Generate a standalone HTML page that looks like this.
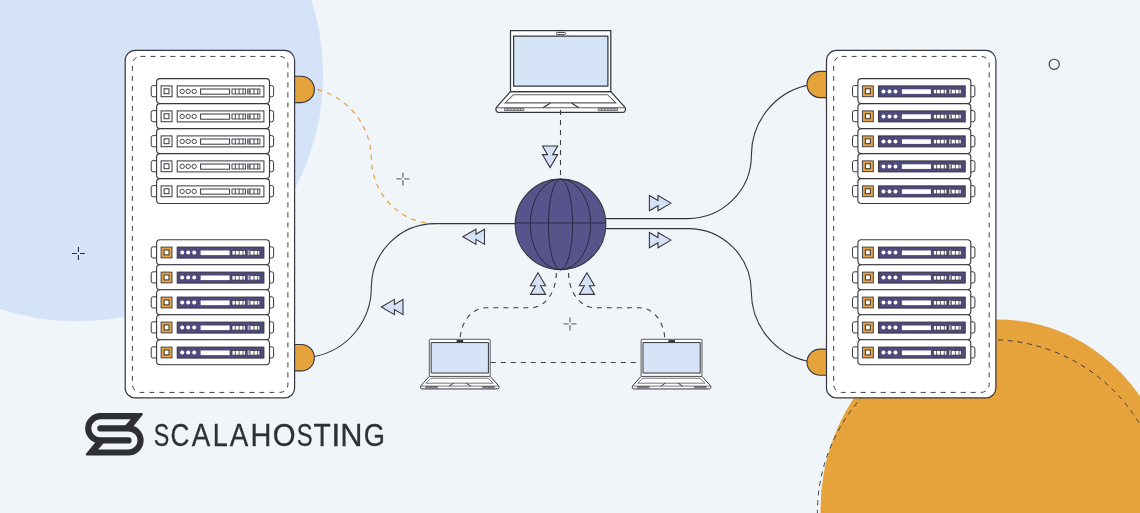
<!DOCTYPE html>
<html><head><meta charset="utf-8"><style>
html,body{margin:0;padding:0;background:#f0f5f9;}
svg{display:block;}
</style></head><body>
<svg width="1140" height="513" viewBox="0 0 1140 513">
<rect width="1140" height="513" fill="#f0f5f9"/>
<circle cx="76.4" cy="74.6" r="246.6" fill="#d4e3f8"/>
<ellipse cx="997.7" cy="509.3" rx="177.2" ry="189.9" fill="#e7a33b"/>
<circle cx="990.9" cy="513.2" r="173.5" fill="none" stroke="#3e3e46" stroke-width="1.0" stroke-dasharray="5 4.7"/>
<path d="M317.5,89.5 A72.6,72.6 0 0 1 371.3,157 A64,66.6 0 0 0 435.3,223.6" fill="none" stroke="#e9a648" stroke-width="1.3" stroke-dasharray="5 5"/>
<path d="M520,223.6 H435.3 A64,64 0 0 0 371.3,287.6 A70.2,70.2 0 0 1 314.5,356.5" fill="none" stroke="#36363f" stroke-width="1.1"/>
<path d="M600,218.6 H687.8 A63.6,63.6 0 0 0 751.4,155 A71.45,71.45 0 0 1 806.7,85.4" fill="none" stroke="#36363f" stroke-width="1.1"/>
<path d="M600,228.6 H687.7 A63.2,63.2 0 0 1 751.3,291.8 A70.97,70.97 0 0 0 807.4,361.2" fill="none" stroke="#36363f" stroke-width="1.1"/>
<path d="M556.3,273 C556.30,292.22 544.84,307.80 530.70,307.80 H486.3 C471.83,307.80 460.10,322.44 460.10,340.50" stroke="#3e3e46" stroke-width="1.1" stroke-dasharray="5 5" fill="none"/>
<path d="M568.6,273 C568.60,292.22 580.51,307.80 595.20,307.80 H639.6 C653.52,307.80 664.80,322.44 664.80,340.50" stroke="#3e3e46" stroke-width="1.1" stroke-dasharray="5 5" fill="none"/>
<path d="M490.8,362.5 H641" stroke="#3e3e46" stroke-width="1.1" stroke-dasharray="5 5" fill="none"/>
<path d="M293.60,76.20 H301.20 A13.2,13.2 0 0 1 301.20,102.60 H293.60 Z" fill="#e7a33b" stroke="#36363f" stroke-width="1.1"/>
<path d="M293.60,344.50 H301.20 A13.2,13.2 0 0 1 301.20,370.90 H293.60 Z" fill="#e7a33b" stroke="#36363f" stroke-width="1.1"/>
<rect x="125.20" y="50.4" width="169.4" height="347.5" rx="10" fill="#fff" stroke="#36363f" stroke-width="1.2"/>
<rect x="132.40" y="56.4" width="155.5" height="336" rx="8" fill="none" stroke="#3e3e46" stroke-width="1.0" stroke-dasharray="5 5"/>
<rect x="151.20" y="85.60" width="7" height="11.2" rx="2" fill="#fff" stroke="#36363f" stroke-width="1"/>
<rect x="266.60" y="85.60" width="7" height="11.2" rx="2" fill="#fff" stroke="#36363f" stroke-width="1"/>
<rect x="156.60" y="78.60" width="112.9" height="24.95" rx="3.5" fill="#fff" stroke="#36363f" stroke-width="1.1"/>
<rect x="161.10" y="85.90" width="10.9" height="10.8" fill="#fff" stroke="#36363f" stroke-width="1.0"/>
<rect x="164.10" y="88.80" width="4.9" height="4.9" fill="#fff" stroke="#36363f" stroke-width="1"/>
<rect x="177.20" y="85.90" width="86.7" height="11.0" fill="#fff" stroke="#36363f" stroke-width="1.0"/>
<circle cx="182.20" cy="91.40" r="2.2" fill="#fff" stroke="#36363f" stroke-width="0.9"/>
<circle cx="188.20" cy="91.40" r="2.2" fill="#fff" stroke="#36363f" stroke-width="0.9"/>
<circle cx="194.20" cy="91.40" r="2.2" fill="#fff" stroke="#36363f" stroke-width="0.9"/>
<rect x="200.60" y="89.00" width="29" height="5.2" fill="#fff" stroke="#36363f" stroke-width="1"/>
<rect x="232.00" y="89.00" width="13.6" height="5.0" fill="#fff" stroke="#36363f" stroke-width="0.9"/>
<rect x="247.60" y="89.00" width="12.3" height="5.0" fill="#fff" stroke="#36363f" stroke-width="0.9"/>
<rect x="247.60" y="89.00" width="2.4" height="5.0" fill="#999"/>
<line x1="235.30" y1="89.00" x2="235.30" y2="94.00" stroke="#36363f" stroke-width="0.9"/>
<line x1="239.10" y1="89.00" x2="239.10" y2="94.00" stroke="#36363f" stroke-width="0.9"/>
<line x1="243.00" y1="89.00" x2="243.00" y2="94.00" stroke="#36363f" stroke-width="0.9"/>
<line x1="250.00" y1="89.00" x2="250.00" y2="94.00" stroke="#36363f" stroke-width="0.9"/>
<line x1="254.00" y1="89.00" x2="254.00" y2="94.00" stroke="#36363f" stroke-width="0.9"/>
<line x1="257.70" y1="89.00" x2="257.70" y2="94.00" stroke="#36363f" stroke-width="0.9"/>
<rect x="151.20" y="110.60" width="7" height="11.2" rx="2" fill="#fff" stroke="#36363f" stroke-width="1"/>
<rect x="266.60" y="110.60" width="7" height="11.2" rx="2" fill="#fff" stroke="#36363f" stroke-width="1"/>
<rect x="156.60" y="103.60" width="112.9" height="24.95" rx="3.5" fill="#fff" stroke="#36363f" stroke-width="1.1"/>
<rect x="161.10" y="110.90" width="10.9" height="10.8" fill="#fff" stroke="#36363f" stroke-width="1.0"/>
<rect x="164.10" y="113.80" width="4.9" height="4.9" fill="#fff" stroke="#36363f" stroke-width="1"/>
<rect x="177.20" y="110.90" width="86.7" height="11.0" fill="#fff" stroke="#36363f" stroke-width="1.0"/>
<circle cx="182.20" cy="116.40" r="2.2" fill="#fff" stroke="#36363f" stroke-width="0.9"/>
<circle cx="188.20" cy="116.40" r="2.2" fill="#fff" stroke="#36363f" stroke-width="0.9"/>
<circle cx="194.20" cy="116.40" r="2.2" fill="#fff" stroke="#36363f" stroke-width="0.9"/>
<rect x="200.60" y="114.00" width="29" height="5.2" fill="#fff" stroke="#36363f" stroke-width="1"/>
<rect x="232.00" y="114.00" width="13.6" height="5.0" fill="#fff" stroke="#36363f" stroke-width="0.9"/>
<rect x="247.60" y="114.00" width="12.3" height="5.0" fill="#fff" stroke="#36363f" stroke-width="0.9"/>
<rect x="247.60" y="114.00" width="2.4" height="5.0" fill="#999"/>
<line x1="235.30" y1="114.00" x2="235.30" y2="119.00" stroke="#36363f" stroke-width="0.9"/>
<line x1="239.10" y1="114.00" x2="239.10" y2="119.00" stroke="#36363f" stroke-width="0.9"/>
<line x1="243.00" y1="114.00" x2="243.00" y2="119.00" stroke="#36363f" stroke-width="0.9"/>
<line x1="250.00" y1="114.00" x2="250.00" y2="119.00" stroke="#36363f" stroke-width="0.9"/>
<line x1="254.00" y1="114.00" x2="254.00" y2="119.00" stroke="#36363f" stroke-width="0.9"/>
<line x1="257.70" y1="114.00" x2="257.70" y2="119.00" stroke="#36363f" stroke-width="0.9"/>
<rect x="151.20" y="135.60" width="7" height="11.2" rx="2" fill="#fff" stroke="#36363f" stroke-width="1"/>
<rect x="266.60" y="135.60" width="7" height="11.2" rx="2" fill="#fff" stroke="#36363f" stroke-width="1"/>
<rect x="156.60" y="128.60" width="112.9" height="24.95" rx="3.5" fill="#fff" stroke="#36363f" stroke-width="1.1"/>
<rect x="161.10" y="135.90" width="10.9" height="10.8" fill="#fff" stroke="#36363f" stroke-width="1.0"/>
<rect x="164.10" y="138.80" width="4.9" height="4.9" fill="#fff" stroke="#36363f" stroke-width="1"/>
<rect x="177.20" y="135.90" width="86.7" height="11.0" fill="#fff" stroke="#36363f" stroke-width="1.0"/>
<circle cx="182.20" cy="141.40" r="2.2" fill="#fff" stroke="#36363f" stroke-width="0.9"/>
<circle cx="188.20" cy="141.40" r="2.2" fill="#fff" stroke="#36363f" stroke-width="0.9"/>
<circle cx="194.20" cy="141.40" r="2.2" fill="#fff" stroke="#36363f" stroke-width="0.9"/>
<rect x="200.60" y="139.00" width="29" height="5.2" fill="#fff" stroke="#36363f" stroke-width="1"/>
<rect x="232.00" y="139.00" width="13.6" height="5.0" fill="#fff" stroke="#36363f" stroke-width="0.9"/>
<rect x="247.60" y="139.00" width="12.3" height="5.0" fill="#fff" stroke="#36363f" stroke-width="0.9"/>
<rect x="247.60" y="139.00" width="2.4" height="5.0" fill="#999"/>
<line x1="235.30" y1="139.00" x2="235.30" y2="144.00" stroke="#36363f" stroke-width="0.9"/>
<line x1="239.10" y1="139.00" x2="239.10" y2="144.00" stroke="#36363f" stroke-width="0.9"/>
<line x1="243.00" y1="139.00" x2="243.00" y2="144.00" stroke="#36363f" stroke-width="0.9"/>
<line x1="250.00" y1="139.00" x2="250.00" y2="144.00" stroke="#36363f" stroke-width="0.9"/>
<line x1="254.00" y1="139.00" x2="254.00" y2="144.00" stroke="#36363f" stroke-width="0.9"/>
<line x1="257.70" y1="139.00" x2="257.70" y2="144.00" stroke="#36363f" stroke-width="0.9"/>
<rect x="151.20" y="160.60" width="7" height="11.2" rx="2" fill="#fff" stroke="#36363f" stroke-width="1"/>
<rect x="266.60" y="160.60" width="7" height="11.2" rx="2" fill="#fff" stroke="#36363f" stroke-width="1"/>
<rect x="156.60" y="153.60" width="112.9" height="24.95" rx="3.5" fill="#fff" stroke="#36363f" stroke-width="1.1"/>
<rect x="161.10" y="160.90" width="10.9" height="10.8" fill="#fff" stroke="#36363f" stroke-width="1.0"/>
<rect x="164.10" y="163.80" width="4.9" height="4.9" fill="#fff" stroke="#36363f" stroke-width="1"/>
<rect x="177.20" y="160.90" width="86.7" height="11.0" fill="#fff" stroke="#36363f" stroke-width="1.0"/>
<circle cx="182.20" cy="166.40" r="2.2" fill="#fff" stroke="#36363f" stroke-width="0.9"/>
<circle cx="188.20" cy="166.40" r="2.2" fill="#fff" stroke="#36363f" stroke-width="0.9"/>
<circle cx="194.20" cy="166.40" r="2.2" fill="#fff" stroke="#36363f" stroke-width="0.9"/>
<rect x="200.60" y="164.00" width="29" height="5.2" fill="#fff" stroke="#36363f" stroke-width="1"/>
<rect x="232.00" y="164.00" width="13.6" height="5.0" fill="#fff" stroke="#36363f" stroke-width="0.9"/>
<rect x="247.60" y="164.00" width="12.3" height="5.0" fill="#fff" stroke="#36363f" stroke-width="0.9"/>
<rect x="247.60" y="164.00" width="2.4" height="5.0" fill="#999"/>
<line x1="235.30" y1="164.00" x2="235.30" y2="169.00" stroke="#36363f" stroke-width="0.9"/>
<line x1="239.10" y1="164.00" x2="239.10" y2="169.00" stroke="#36363f" stroke-width="0.9"/>
<line x1="243.00" y1="164.00" x2="243.00" y2="169.00" stroke="#36363f" stroke-width="0.9"/>
<line x1="250.00" y1="164.00" x2="250.00" y2="169.00" stroke="#36363f" stroke-width="0.9"/>
<line x1="254.00" y1="164.00" x2="254.00" y2="169.00" stroke="#36363f" stroke-width="0.9"/>
<line x1="257.70" y1="164.00" x2="257.70" y2="169.00" stroke="#36363f" stroke-width="0.9"/>
<rect x="151.20" y="185.60" width="7" height="11.2" rx="2" fill="#fff" stroke="#36363f" stroke-width="1"/>
<rect x="266.60" y="185.60" width="7" height="11.2" rx="2" fill="#fff" stroke="#36363f" stroke-width="1"/>
<rect x="156.60" y="178.60" width="112.9" height="24.95" rx="3.5" fill="#fff" stroke="#36363f" stroke-width="1.1"/>
<rect x="161.10" y="185.90" width="10.9" height="10.8" fill="#fff" stroke="#36363f" stroke-width="1.0"/>
<rect x="164.10" y="188.80" width="4.9" height="4.9" fill="#fff" stroke="#36363f" stroke-width="1"/>
<rect x="177.20" y="185.90" width="86.7" height="11.0" fill="#fff" stroke="#36363f" stroke-width="1.0"/>
<circle cx="182.20" cy="191.40" r="2.2" fill="#fff" stroke="#36363f" stroke-width="0.9"/>
<circle cx="188.20" cy="191.40" r="2.2" fill="#fff" stroke="#36363f" stroke-width="0.9"/>
<circle cx="194.20" cy="191.40" r="2.2" fill="#fff" stroke="#36363f" stroke-width="0.9"/>
<rect x="200.60" y="189.00" width="29" height="5.2" fill="#fff" stroke="#36363f" stroke-width="1"/>
<rect x="232.00" y="189.00" width="13.6" height="5.0" fill="#fff" stroke="#36363f" stroke-width="0.9"/>
<rect x="247.60" y="189.00" width="12.3" height="5.0" fill="#fff" stroke="#36363f" stroke-width="0.9"/>
<rect x="247.60" y="189.00" width="2.4" height="5.0" fill="#999"/>
<line x1="235.30" y1="189.00" x2="235.30" y2="194.00" stroke="#36363f" stroke-width="0.9"/>
<line x1="239.10" y1="189.00" x2="239.10" y2="194.00" stroke="#36363f" stroke-width="0.9"/>
<line x1="243.00" y1="189.00" x2="243.00" y2="194.00" stroke="#36363f" stroke-width="0.9"/>
<line x1="250.00" y1="189.00" x2="250.00" y2="194.00" stroke="#36363f" stroke-width="0.9"/>
<line x1="254.00" y1="189.00" x2="254.00" y2="194.00" stroke="#36363f" stroke-width="0.9"/>
<line x1="257.70" y1="189.00" x2="257.70" y2="194.00" stroke="#36363f" stroke-width="0.9"/>
<rect x="151.20" y="246.80" width="7" height="11.2" rx="2" fill="#fff" stroke="#36363f" stroke-width="1"/>
<rect x="266.60" y="246.80" width="7" height="11.2" rx="2" fill="#fff" stroke="#36363f" stroke-width="1"/>
<rect x="156.60" y="239.80" width="112.9" height="24.95" rx="3.5" fill="#fff" stroke="#36363f" stroke-width="1.1"/>
<rect x="161.10" y="247.10" width="10.9" height="10.8" fill="#e4a64c" stroke="#36363f" stroke-width="0.9"/>
<rect x="164.10" y="250.00" width="4.9" height="4.9" fill="#fff" stroke="#3a3024" stroke-width="1"/>
<rect x="177.20" y="247.10" width="86.7" height="11.0" fill="#4e4a7e" stroke="#36363f" stroke-width="1"/>
<circle cx="182.20" cy="252.60" r="2" fill="#fff"/>
<circle cx="188.20" cy="252.60" r="2" fill="#fff"/>
<circle cx="194.20" cy="252.60" r="2" fill="#fff"/>
<rect x="200.60" y="250.50" width="29" height="4.6" fill="#fff"/>
<rect x="232.00" y="250.40" width="13.6" height="4.7" fill="#fff" stroke="#36363f" stroke-width="0.8"/>
<rect x="247.60" y="250.40" width="12.3" height="4.7" fill="#fff" stroke="#36363f" stroke-width="0.8"/>
<rect x="247.60" y="250.40" width="2.4" height="4.7" fill="#b4b2c4"/>
<line x1="235.30" y1="250.40" x2="235.30" y2="255.10" stroke="#36363f" stroke-width="0.8"/>
<line x1="239.10" y1="250.40" x2="239.10" y2="255.10" stroke="#36363f" stroke-width="0.8"/>
<line x1="243.00" y1="250.40" x2="243.00" y2="255.10" stroke="#36363f" stroke-width="0.8"/>
<line x1="250.00" y1="250.40" x2="250.00" y2="255.10" stroke="#36363f" stroke-width="0.8"/>
<line x1="254.00" y1="250.40" x2="254.00" y2="255.10" stroke="#36363f" stroke-width="0.8"/>
<line x1="257.70" y1="250.40" x2="257.70" y2="255.10" stroke="#36363f" stroke-width="0.8"/>
<rect x="151.20" y="271.80" width="7" height="11.2" rx="2" fill="#fff" stroke="#36363f" stroke-width="1"/>
<rect x="266.60" y="271.80" width="7" height="11.2" rx="2" fill="#fff" stroke="#36363f" stroke-width="1"/>
<rect x="156.60" y="264.80" width="112.9" height="24.95" rx="3.5" fill="#fff" stroke="#36363f" stroke-width="1.1"/>
<rect x="161.10" y="272.10" width="10.9" height="10.8" fill="#e4a64c" stroke="#36363f" stroke-width="0.9"/>
<rect x="164.10" y="275.00" width="4.9" height="4.9" fill="#fff" stroke="#3a3024" stroke-width="1"/>
<rect x="177.20" y="272.10" width="86.7" height="11.0" fill="#4e4a7e" stroke="#36363f" stroke-width="1"/>
<circle cx="182.20" cy="277.60" r="2" fill="#fff"/>
<circle cx="188.20" cy="277.60" r="2" fill="#fff"/>
<circle cx="194.20" cy="277.60" r="2" fill="#fff"/>
<rect x="200.60" y="275.50" width="29" height="4.6" fill="#fff"/>
<rect x="232.00" y="275.40" width="13.6" height="4.7" fill="#fff" stroke="#36363f" stroke-width="0.8"/>
<rect x="247.60" y="275.40" width="12.3" height="4.7" fill="#fff" stroke="#36363f" stroke-width="0.8"/>
<rect x="247.60" y="275.40" width="2.4" height="4.7" fill="#b4b2c4"/>
<line x1="235.30" y1="275.40" x2="235.30" y2="280.10" stroke="#36363f" stroke-width="0.8"/>
<line x1="239.10" y1="275.40" x2="239.10" y2="280.10" stroke="#36363f" stroke-width="0.8"/>
<line x1="243.00" y1="275.40" x2="243.00" y2="280.10" stroke="#36363f" stroke-width="0.8"/>
<line x1="250.00" y1="275.40" x2="250.00" y2="280.10" stroke="#36363f" stroke-width="0.8"/>
<line x1="254.00" y1="275.40" x2="254.00" y2="280.10" stroke="#36363f" stroke-width="0.8"/>
<line x1="257.70" y1="275.40" x2="257.70" y2="280.10" stroke="#36363f" stroke-width="0.8"/>
<rect x="151.20" y="296.80" width="7" height="11.2" rx="2" fill="#fff" stroke="#36363f" stroke-width="1"/>
<rect x="266.60" y="296.80" width="7" height="11.2" rx="2" fill="#fff" stroke="#36363f" stroke-width="1"/>
<rect x="156.60" y="289.80" width="112.9" height="24.95" rx="3.5" fill="#fff" stroke="#36363f" stroke-width="1.1"/>
<rect x="161.10" y="297.10" width="10.9" height="10.8" fill="#e4a64c" stroke="#36363f" stroke-width="0.9"/>
<rect x="164.10" y="300.00" width="4.9" height="4.9" fill="#fff" stroke="#3a3024" stroke-width="1"/>
<rect x="177.20" y="297.10" width="86.7" height="11.0" fill="#4e4a7e" stroke="#36363f" stroke-width="1"/>
<circle cx="182.20" cy="302.60" r="2" fill="#fff"/>
<circle cx="188.20" cy="302.60" r="2" fill="#fff"/>
<circle cx="194.20" cy="302.60" r="2" fill="#fff"/>
<rect x="200.60" y="300.50" width="29" height="4.6" fill="#fff"/>
<rect x="232.00" y="300.40" width="13.6" height="4.7" fill="#fff" stroke="#36363f" stroke-width="0.8"/>
<rect x="247.60" y="300.40" width="12.3" height="4.7" fill="#fff" stroke="#36363f" stroke-width="0.8"/>
<rect x="247.60" y="300.40" width="2.4" height="4.7" fill="#b4b2c4"/>
<line x1="235.30" y1="300.40" x2="235.30" y2="305.10" stroke="#36363f" stroke-width="0.8"/>
<line x1="239.10" y1="300.40" x2="239.10" y2="305.10" stroke="#36363f" stroke-width="0.8"/>
<line x1="243.00" y1="300.40" x2="243.00" y2="305.10" stroke="#36363f" stroke-width="0.8"/>
<line x1="250.00" y1="300.40" x2="250.00" y2="305.10" stroke="#36363f" stroke-width="0.8"/>
<line x1="254.00" y1="300.40" x2="254.00" y2="305.10" stroke="#36363f" stroke-width="0.8"/>
<line x1="257.70" y1="300.40" x2="257.70" y2="305.10" stroke="#36363f" stroke-width="0.8"/>
<rect x="151.20" y="321.80" width="7" height="11.2" rx="2" fill="#fff" stroke="#36363f" stroke-width="1"/>
<rect x="266.60" y="321.80" width="7" height="11.2" rx="2" fill="#fff" stroke="#36363f" stroke-width="1"/>
<rect x="156.60" y="314.80" width="112.9" height="24.95" rx="3.5" fill="#fff" stroke="#36363f" stroke-width="1.1"/>
<rect x="161.10" y="322.10" width="10.9" height="10.8" fill="#e4a64c" stroke="#36363f" stroke-width="0.9"/>
<rect x="164.10" y="325.00" width="4.9" height="4.9" fill="#fff" stroke="#3a3024" stroke-width="1"/>
<rect x="177.20" y="322.10" width="86.7" height="11.0" fill="#4e4a7e" stroke="#36363f" stroke-width="1"/>
<circle cx="182.20" cy="327.60" r="2" fill="#fff"/>
<circle cx="188.20" cy="327.60" r="2" fill="#fff"/>
<circle cx="194.20" cy="327.60" r="2" fill="#fff"/>
<rect x="200.60" y="325.50" width="29" height="4.6" fill="#fff"/>
<rect x="232.00" y="325.40" width="13.6" height="4.7" fill="#fff" stroke="#36363f" stroke-width="0.8"/>
<rect x="247.60" y="325.40" width="12.3" height="4.7" fill="#fff" stroke="#36363f" stroke-width="0.8"/>
<rect x="247.60" y="325.40" width="2.4" height="4.7" fill="#b4b2c4"/>
<line x1="235.30" y1="325.40" x2="235.30" y2="330.10" stroke="#36363f" stroke-width="0.8"/>
<line x1="239.10" y1="325.40" x2="239.10" y2="330.10" stroke="#36363f" stroke-width="0.8"/>
<line x1="243.00" y1="325.40" x2="243.00" y2="330.10" stroke="#36363f" stroke-width="0.8"/>
<line x1="250.00" y1="325.40" x2="250.00" y2="330.10" stroke="#36363f" stroke-width="0.8"/>
<line x1="254.00" y1="325.40" x2="254.00" y2="330.10" stroke="#36363f" stroke-width="0.8"/>
<line x1="257.70" y1="325.40" x2="257.70" y2="330.10" stroke="#36363f" stroke-width="0.8"/>
<rect x="151.20" y="346.80" width="7" height="11.2" rx="2" fill="#fff" stroke="#36363f" stroke-width="1"/>
<rect x="266.60" y="346.80" width="7" height="11.2" rx="2" fill="#fff" stroke="#36363f" stroke-width="1"/>
<rect x="156.60" y="339.80" width="112.9" height="24.95" rx="3.5" fill="#fff" stroke="#36363f" stroke-width="1.1"/>
<rect x="161.10" y="347.10" width="10.9" height="10.8" fill="#e4a64c" stroke="#36363f" stroke-width="0.9"/>
<rect x="164.10" y="350.00" width="4.9" height="4.9" fill="#fff" stroke="#3a3024" stroke-width="1"/>
<rect x="177.20" y="347.10" width="86.7" height="11.0" fill="#4e4a7e" stroke="#36363f" stroke-width="1"/>
<circle cx="182.20" cy="352.60" r="2" fill="#fff"/>
<circle cx="188.20" cy="352.60" r="2" fill="#fff"/>
<circle cx="194.20" cy="352.60" r="2" fill="#fff"/>
<rect x="200.60" y="350.50" width="29" height="4.6" fill="#fff"/>
<rect x="232.00" y="350.40" width="13.6" height="4.7" fill="#fff" stroke="#36363f" stroke-width="0.8"/>
<rect x="247.60" y="350.40" width="12.3" height="4.7" fill="#fff" stroke="#36363f" stroke-width="0.8"/>
<rect x="247.60" y="350.40" width="2.4" height="4.7" fill="#b4b2c4"/>
<line x1="235.30" y1="350.40" x2="235.30" y2="355.10" stroke="#36363f" stroke-width="0.8"/>
<line x1="239.10" y1="350.40" x2="239.10" y2="355.10" stroke="#36363f" stroke-width="0.8"/>
<line x1="243.00" y1="350.40" x2="243.00" y2="355.10" stroke="#36363f" stroke-width="0.8"/>
<line x1="250.00" y1="350.40" x2="250.00" y2="355.10" stroke="#36363f" stroke-width="0.8"/>
<line x1="254.00" y1="350.40" x2="254.00" y2="355.10" stroke="#36363f" stroke-width="0.8"/>
<line x1="257.70" y1="350.40" x2="257.70" y2="355.10" stroke="#36363f" stroke-width="0.8"/>
<path d="M827.50,71.40 H820.10 A13.1,13.1 0 0 0 820.10,97.60 H827.50 Z" fill="#e7a33b" stroke="#36363f" stroke-width="1.1"/>
<path d="M827.50,349.10 H820.10 A13.1,13.1 0 0 0 820.10,375.30 H827.50 Z" fill="#e7a33b" stroke="#36363f" stroke-width="1.1"/>
<rect x="826.50" y="50.4" width="169.4" height="347.5" rx="10" fill="#fff" stroke="#36363f" stroke-width="1.2"/>
<rect x="833.70" y="56.4" width="155.5" height="336" rx="8" fill="none" stroke="#3e3e46" stroke-width="1.0" stroke-dasharray="5 5"/>
<rect x="852.50" y="85.60" width="7" height="11.2" rx="2" fill="#fff" stroke="#36363f" stroke-width="1"/>
<rect x="967.90" y="85.60" width="7" height="11.2" rx="2" fill="#fff" stroke="#36363f" stroke-width="1"/>
<rect x="857.90" y="78.60" width="112.9" height="24.95" rx="3.5" fill="#fff" stroke="#36363f" stroke-width="1.1"/>
<rect x="862.40" y="85.90" width="10.9" height="10.8" fill="#e4a64c" stroke="#36363f" stroke-width="0.9"/>
<rect x="865.40" y="88.80" width="4.9" height="4.9" fill="#fff" stroke="#3a3024" stroke-width="1"/>
<rect x="878.50" y="85.90" width="86.7" height="11.0" fill="#4e4a7e" stroke="#36363f" stroke-width="1"/>
<circle cx="883.50" cy="91.40" r="2" fill="#fff"/>
<circle cx="889.50" cy="91.40" r="2" fill="#fff"/>
<circle cx="895.50" cy="91.40" r="2" fill="#fff"/>
<rect x="901.90" y="89.30" width="29" height="4.6" fill="#fff"/>
<rect x="933.30" y="89.20" width="13.6" height="4.7" fill="#fff" stroke="#36363f" stroke-width="0.8"/>
<rect x="948.90" y="89.20" width="12.3" height="4.7" fill="#fff" stroke="#36363f" stroke-width="0.8"/>
<rect x="948.90" y="89.20" width="2.4" height="4.7" fill="#b4b2c4"/>
<line x1="936.60" y1="89.20" x2="936.60" y2="93.90" stroke="#36363f" stroke-width="0.8"/>
<line x1="940.40" y1="89.20" x2="940.40" y2="93.90" stroke="#36363f" stroke-width="0.8"/>
<line x1="944.30" y1="89.20" x2="944.30" y2="93.90" stroke="#36363f" stroke-width="0.8"/>
<line x1="951.30" y1="89.20" x2="951.30" y2="93.90" stroke="#36363f" stroke-width="0.8"/>
<line x1="955.30" y1="89.20" x2="955.30" y2="93.90" stroke="#36363f" stroke-width="0.8"/>
<line x1="959.00" y1="89.20" x2="959.00" y2="93.90" stroke="#36363f" stroke-width="0.8"/>
<rect x="852.50" y="110.60" width="7" height="11.2" rx="2" fill="#fff" stroke="#36363f" stroke-width="1"/>
<rect x="967.90" y="110.60" width="7" height="11.2" rx="2" fill="#fff" stroke="#36363f" stroke-width="1"/>
<rect x="857.90" y="103.60" width="112.9" height="24.95" rx="3.5" fill="#fff" stroke="#36363f" stroke-width="1.1"/>
<rect x="862.40" y="110.90" width="10.9" height="10.8" fill="#e4a64c" stroke="#36363f" stroke-width="0.9"/>
<rect x="865.40" y="113.80" width="4.9" height="4.9" fill="#fff" stroke="#3a3024" stroke-width="1"/>
<rect x="878.50" y="110.90" width="86.7" height="11.0" fill="#4e4a7e" stroke="#36363f" stroke-width="1"/>
<circle cx="883.50" cy="116.40" r="2" fill="#fff"/>
<circle cx="889.50" cy="116.40" r="2" fill="#fff"/>
<circle cx="895.50" cy="116.40" r="2" fill="#fff"/>
<rect x="901.90" y="114.30" width="29" height="4.6" fill="#fff"/>
<rect x="933.30" y="114.20" width="13.6" height="4.7" fill="#fff" stroke="#36363f" stroke-width="0.8"/>
<rect x="948.90" y="114.20" width="12.3" height="4.7" fill="#fff" stroke="#36363f" stroke-width="0.8"/>
<rect x="948.90" y="114.20" width="2.4" height="4.7" fill="#b4b2c4"/>
<line x1="936.60" y1="114.20" x2="936.60" y2="118.90" stroke="#36363f" stroke-width="0.8"/>
<line x1="940.40" y1="114.20" x2="940.40" y2="118.90" stroke="#36363f" stroke-width="0.8"/>
<line x1="944.30" y1="114.20" x2="944.30" y2="118.90" stroke="#36363f" stroke-width="0.8"/>
<line x1="951.30" y1="114.20" x2="951.30" y2="118.90" stroke="#36363f" stroke-width="0.8"/>
<line x1="955.30" y1="114.20" x2="955.30" y2="118.90" stroke="#36363f" stroke-width="0.8"/>
<line x1="959.00" y1="114.20" x2="959.00" y2="118.90" stroke="#36363f" stroke-width="0.8"/>
<rect x="852.50" y="135.60" width="7" height="11.2" rx="2" fill="#fff" stroke="#36363f" stroke-width="1"/>
<rect x="967.90" y="135.60" width="7" height="11.2" rx="2" fill="#fff" stroke="#36363f" stroke-width="1"/>
<rect x="857.90" y="128.60" width="112.9" height="24.95" rx="3.5" fill="#fff" stroke="#36363f" stroke-width="1.1"/>
<rect x="862.40" y="135.90" width="10.9" height="10.8" fill="#e4a64c" stroke="#36363f" stroke-width="0.9"/>
<rect x="865.40" y="138.80" width="4.9" height="4.9" fill="#fff" stroke="#3a3024" stroke-width="1"/>
<rect x="878.50" y="135.90" width="86.7" height="11.0" fill="#4e4a7e" stroke="#36363f" stroke-width="1"/>
<circle cx="883.50" cy="141.40" r="2" fill="#fff"/>
<circle cx="889.50" cy="141.40" r="2" fill="#fff"/>
<circle cx="895.50" cy="141.40" r="2" fill="#fff"/>
<rect x="901.90" y="139.30" width="29" height="4.6" fill="#fff"/>
<rect x="933.30" y="139.20" width="13.6" height="4.7" fill="#fff" stroke="#36363f" stroke-width="0.8"/>
<rect x="948.90" y="139.20" width="12.3" height="4.7" fill="#fff" stroke="#36363f" stroke-width="0.8"/>
<rect x="948.90" y="139.20" width="2.4" height="4.7" fill="#b4b2c4"/>
<line x1="936.60" y1="139.20" x2="936.60" y2="143.90" stroke="#36363f" stroke-width="0.8"/>
<line x1="940.40" y1="139.20" x2="940.40" y2="143.90" stroke="#36363f" stroke-width="0.8"/>
<line x1="944.30" y1="139.20" x2="944.30" y2="143.90" stroke="#36363f" stroke-width="0.8"/>
<line x1="951.30" y1="139.20" x2="951.30" y2="143.90" stroke="#36363f" stroke-width="0.8"/>
<line x1="955.30" y1="139.20" x2="955.30" y2="143.90" stroke="#36363f" stroke-width="0.8"/>
<line x1="959.00" y1="139.20" x2="959.00" y2="143.90" stroke="#36363f" stroke-width="0.8"/>
<rect x="852.50" y="160.60" width="7" height="11.2" rx="2" fill="#fff" stroke="#36363f" stroke-width="1"/>
<rect x="967.90" y="160.60" width="7" height="11.2" rx="2" fill="#fff" stroke="#36363f" stroke-width="1"/>
<rect x="857.90" y="153.60" width="112.9" height="24.95" rx="3.5" fill="#fff" stroke="#36363f" stroke-width="1.1"/>
<rect x="862.40" y="160.90" width="10.9" height="10.8" fill="#e4a64c" stroke="#36363f" stroke-width="0.9"/>
<rect x="865.40" y="163.80" width="4.9" height="4.9" fill="#fff" stroke="#3a3024" stroke-width="1"/>
<rect x="878.50" y="160.90" width="86.7" height="11.0" fill="#4e4a7e" stroke="#36363f" stroke-width="1"/>
<circle cx="883.50" cy="166.40" r="2" fill="#fff"/>
<circle cx="889.50" cy="166.40" r="2" fill="#fff"/>
<circle cx="895.50" cy="166.40" r="2" fill="#fff"/>
<rect x="901.90" y="164.30" width="29" height="4.6" fill="#fff"/>
<rect x="933.30" y="164.20" width="13.6" height="4.7" fill="#fff" stroke="#36363f" stroke-width="0.8"/>
<rect x="948.90" y="164.20" width="12.3" height="4.7" fill="#fff" stroke="#36363f" stroke-width="0.8"/>
<rect x="948.90" y="164.20" width="2.4" height="4.7" fill="#b4b2c4"/>
<line x1="936.60" y1="164.20" x2="936.60" y2="168.90" stroke="#36363f" stroke-width="0.8"/>
<line x1="940.40" y1="164.20" x2="940.40" y2="168.90" stroke="#36363f" stroke-width="0.8"/>
<line x1="944.30" y1="164.20" x2="944.30" y2="168.90" stroke="#36363f" stroke-width="0.8"/>
<line x1="951.30" y1="164.20" x2="951.30" y2="168.90" stroke="#36363f" stroke-width="0.8"/>
<line x1="955.30" y1="164.20" x2="955.30" y2="168.90" stroke="#36363f" stroke-width="0.8"/>
<line x1="959.00" y1="164.20" x2="959.00" y2="168.90" stroke="#36363f" stroke-width="0.8"/>
<rect x="852.50" y="185.60" width="7" height="11.2" rx="2" fill="#fff" stroke="#36363f" stroke-width="1"/>
<rect x="967.90" y="185.60" width="7" height="11.2" rx="2" fill="#fff" stroke="#36363f" stroke-width="1"/>
<rect x="857.90" y="178.60" width="112.9" height="24.95" rx="3.5" fill="#fff" stroke="#36363f" stroke-width="1.1"/>
<rect x="862.40" y="185.90" width="10.9" height="10.8" fill="#e4a64c" stroke="#36363f" stroke-width="0.9"/>
<rect x="865.40" y="188.80" width="4.9" height="4.9" fill="#fff" stroke="#3a3024" stroke-width="1"/>
<rect x="878.50" y="185.90" width="86.7" height="11.0" fill="#4e4a7e" stroke="#36363f" stroke-width="1"/>
<circle cx="883.50" cy="191.40" r="2" fill="#fff"/>
<circle cx="889.50" cy="191.40" r="2" fill="#fff"/>
<circle cx="895.50" cy="191.40" r="2" fill="#fff"/>
<rect x="901.90" y="189.30" width="29" height="4.6" fill="#fff"/>
<rect x="933.30" y="189.20" width="13.6" height="4.7" fill="#fff" stroke="#36363f" stroke-width="0.8"/>
<rect x="948.90" y="189.20" width="12.3" height="4.7" fill="#fff" stroke="#36363f" stroke-width="0.8"/>
<rect x="948.90" y="189.20" width="2.4" height="4.7" fill="#b4b2c4"/>
<line x1="936.60" y1="189.20" x2="936.60" y2="193.90" stroke="#36363f" stroke-width="0.8"/>
<line x1="940.40" y1="189.20" x2="940.40" y2="193.90" stroke="#36363f" stroke-width="0.8"/>
<line x1="944.30" y1="189.20" x2="944.30" y2="193.90" stroke="#36363f" stroke-width="0.8"/>
<line x1="951.30" y1="189.20" x2="951.30" y2="193.90" stroke="#36363f" stroke-width="0.8"/>
<line x1="955.30" y1="189.20" x2="955.30" y2="193.90" stroke="#36363f" stroke-width="0.8"/>
<line x1="959.00" y1="189.20" x2="959.00" y2="193.90" stroke="#36363f" stroke-width="0.8"/>
<rect x="852.50" y="246.80" width="7" height="11.2" rx="2" fill="#fff" stroke="#36363f" stroke-width="1"/>
<rect x="967.90" y="246.80" width="7" height="11.2" rx="2" fill="#fff" stroke="#36363f" stroke-width="1"/>
<rect x="857.90" y="239.80" width="112.9" height="24.95" rx="3.5" fill="#fff" stroke="#36363f" stroke-width="1.1"/>
<rect x="862.40" y="247.10" width="10.9" height="10.8" fill="#e4a64c" stroke="#36363f" stroke-width="0.9"/>
<rect x="865.40" y="250.00" width="4.9" height="4.9" fill="#fff" stroke="#3a3024" stroke-width="1"/>
<rect x="878.50" y="247.10" width="86.7" height="11.0" fill="#4e4a7e" stroke="#36363f" stroke-width="1"/>
<circle cx="883.50" cy="252.60" r="2" fill="#fff"/>
<circle cx="889.50" cy="252.60" r="2" fill="#fff"/>
<circle cx="895.50" cy="252.60" r="2" fill="#fff"/>
<rect x="901.90" y="250.50" width="29" height="4.6" fill="#fff"/>
<rect x="933.30" y="250.40" width="13.6" height="4.7" fill="#fff" stroke="#36363f" stroke-width="0.8"/>
<rect x="948.90" y="250.40" width="12.3" height="4.7" fill="#fff" stroke="#36363f" stroke-width="0.8"/>
<rect x="948.90" y="250.40" width="2.4" height="4.7" fill="#b4b2c4"/>
<line x1="936.60" y1="250.40" x2="936.60" y2="255.10" stroke="#36363f" stroke-width="0.8"/>
<line x1="940.40" y1="250.40" x2="940.40" y2="255.10" stroke="#36363f" stroke-width="0.8"/>
<line x1="944.30" y1="250.40" x2="944.30" y2="255.10" stroke="#36363f" stroke-width="0.8"/>
<line x1="951.30" y1="250.40" x2="951.30" y2="255.10" stroke="#36363f" stroke-width="0.8"/>
<line x1="955.30" y1="250.40" x2="955.30" y2="255.10" stroke="#36363f" stroke-width="0.8"/>
<line x1="959.00" y1="250.40" x2="959.00" y2="255.10" stroke="#36363f" stroke-width="0.8"/>
<rect x="852.50" y="271.80" width="7" height="11.2" rx="2" fill="#fff" stroke="#36363f" stroke-width="1"/>
<rect x="967.90" y="271.80" width="7" height="11.2" rx="2" fill="#fff" stroke="#36363f" stroke-width="1"/>
<rect x="857.90" y="264.80" width="112.9" height="24.95" rx="3.5" fill="#fff" stroke="#36363f" stroke-width="1.1"/>
<rect x="862.40" y="272.10" width="10.9" height="10.8" fill="#e4a64c" stroke="#36363f" stroke-width="0.9"/>
<rect x="865.40" y="275.00" width="4.9" height="4.9" fill="#fff" stroke="#3a3024" stroke-width="1"/>
<rect x="878.50" y="272.10" width="86.7" height="11.0" fill="#4e4a7e" stroke="#36363f" stroke-width="1"/>
<circle cx="883.50" cy="277.60" r="2" fill="#fff"/>
<circle cx="889.50" cy="277.60" r="2" fill="#fff"/>
<circle cx="895.50" cy="277.60" r="2" fill="#fff"/>
<rect x="901.90" y="275.50" width="29" height="4.6" fill="#fff"/>
<rect x="933.30" y="275.40" width="13.6" height="4.7" fill="#fff" stroke="#36363f" stroke-width="0.8"/>
<rect x="948.90" y="275.40" width="12.3" height="4.7" fill="#fff" stroke="#36363f" stroke-width="0.8"/>
<rect x="948.90" y="275.40" width="2.4" height="4.7" fill="#b4b2c4"/>
<line x1="936.60" y1="275.40" x2="936.60" y2="280.10" stroke="#36363f" stroke-width="0.8"/>
<line x1="940.40" y1="275.40" x2="940.40" y2="280.10" stroke="#36363f" stroke-width="0.8"/>
<line x1="944.30" y1="275.40" x2="944.30" y2="280.10" stroke="#36363f" stroke-width="0.8"/>
<line x1="951.30" y1="275.40" x2="951.30" y2="280.10" stroke="#36363f" stroke-width="0.8"/>
<line x1="955.30" y1="275.40" x2="955.30" y2="280.10" stroke="#36363f" stroke-width="0.8"/>
<line x1="959.00" y1="275.40" x2="959.00" y2="280.10" stroke="#36363f" stroke-width="0.8"/>
<rect x="852.50" y="296.80" width="7" height="11.2" rx="2" fill="#fff" stroke="#36363f" stroke-width="1"/>
<rect x="967.90" y="296.80" width="7" height="11.2" rx="2" fill="#fff" stroke="#36363f" stroke-width="1"/>
<rect x="857.90" y="289.80" width="112.9" height="24.95" rx="3.5" fill="#fff" stroke="#36363f" stroke-width="1.1"/>
<rect x="862.40" y="297.10" width="10.9" height="10.8" fill="#e4a64c" stroke="#36363f" stroke-width="0.9"/>
<rect x="865.40" y="300.00" width="4.9" height="4.9" fill="#fff" stroke="#3a3024" stroke-width="1"/>
<rect x="878.50" y="297.10" width="86.7" height="11.0" fill="#4e4a7e" stroke="#36363f" stroke-width="1"/>
<circle cx="883.50" cy="302.60" r="2" fill="#fff"/>
<circle cx="889.50" cy="302.60" r="2" fill="#fff"/>
<circle cx="895.50" cy="302.60" r="2" fill="#fff"/>
<rect x="901.90" y="300.50" width="29" height="4.6" fill="#fff"/>
<rect x="933.30" y="300.40" width="13.6" height="4.7" fill="#fff" stroke="#36363f" stroke-width="0.8"/>
<rect x="948.90" y="300.40" width="12.3" height="4.7" fill="#fff" stroke="#36363f" stroke-width="0.8"/>
<rect x="948.90" y="300.40" width="2.4" height="4.7" fill="#b4b2c4"/>
<line x1="936.60" y1="300.40" x2="936.60" y2="305.10" stroke="#36363f" stroke-width="0.8"/>
<line x1="940.40" y1="300.40" x2="940.40" y2="305.10" stroke="#36363f" stroke-width="0.8"/>
<line x1="944.30" y1="300.40" x2="944.30" y2="305.10" stroke="#36363f" stroke-width="0.8"/>
<line x1="951.30" y1="300.40" x2="951.30" y2="305.10" stroke="#36363f" stroke-width="0.8"/>
<line x1="955.30" y1="300.40" x2="955.30" y2="305.10" stroke="#36363f" stroke-width="0.8"/>
<line x1="959.00" y1="300.40" x2="959.00" y2="305.10" stroke="#36363f" stroke-width="0.8"/>
<rect x="852.50" y="321.80" width="7" height="11.2" rx="2" fill="#fff" stroke="#36363f" stroke-width="1"/>
<rect x="967.90" y="321.80" width="7" height="11.2" rx="2" fill="#fff" stroke="#36363f" stroke-width="1"/>
<rect x="857.90" y="314.80" width="112.9" height="24.95" rx="3.5" fill="#fff" stroke="#36363f" stroke-width="1.1"/>
<rect x="862.40" y="322.10" width="10.9" height="10.8" fill="#e4a64c" stroke="#36363f" stroke-width="0.9"/>
<rect x="865.40" y="325.00" width="4.9" height="4.9" fill="#fff" stroke="#3a3024" stroke-width="1"/>
<rect x="878.50" y="322.10" width="86.7" height="11.0" fill="#4e4a7e" stroke="#36363f" stroke-width="1"/>
<circle cx="883.50" cy="327.60" r="2" fill="#fff"/>
<circle cx="889.50" cy="327.60" r="2" fill="#fff"/>
<circle cx="895.50" cy="327.60" r="2" fill="#fff"/>
<rect x="901.90" y="325.50" width="29" height="4.6" fill="#fff"/>
<rect x="933.30" y="325.40" width="13.6" height="4.7" fill="#fff" stroke="#36363f" stroke-width="0.8"/>
<rect x="948.90" y="325.40" width="12.3" height="4.7" fill="#fff" stroke="#36363f" stroke-width="0.8"/>
<rect x="948.90" y="325.40" width="2.4" height="4.7" fill="#b4b2c4"/>
<line x1="936.60" y1="325.40" x2="936.60" y2="330.10" stroke="#36363f" stroke-width="0.8"/>
<line x1="940.40" y1="325.40" x2="940.40" y2="330.10" stroke="#36363f" stroke-width="0.8"/>
<line x1="944.30" y1="325.40" x2="944.30" y2="330.10" stroke="#36363f" stroke-width="0.8"/>
<line x1="951.30" y1="325.40" x2="951.30" y2="330.10" stroke="#36363f" stroke-width="0.8"/>
<line x1="955.30" y1="325.40" x2="955.30" y2="330.10" stroke="#36363f" stroke-width="0.8"/>
<line x1="959.00" y1="325.40" x2="959.00" y2="330.10" stroke="#36363f" stroke-width="0.8"/>
<rect x="852.50" y="346.80" width="7" height="11.2" rx="2" fill="#fff" stroke="#36363f" stroke-width="1"/>
<rect x="967.90" y="346.80" width="7" height="11.2" rx="2" fill="#fff" stroke="#36363f" stroke-width="1"/>
<rect x="857.90" y="339.80" width="112.9" height="24.95" rx="3.5" fill="#fff" stroke="#36363f" stroke-width="1.1"/>
<rect x="862.40" y="347.10" width="10.9" height="10.8" fill="#e4a64c" stroke="#36363f" stroke-width="0.9"/>
<rect x="865.40" y="350.00" width="4.9" height="4.9" fill="#fff" stroke="#3a3024" stroke-width="1"/>
<rect x="878.50" y="347.10" width="86.7" height="11.0" fill="#4e4a7e" stroke="#36363f" stroke-width="1"/>
<circle cx="883.50" cy="352.60" r="2" fill="#fff"/>
<circle cx="889.50" cy="352.60" r="2" fill="#fff"/>
<circle cx="895.50" cy="352.60" r="2" fill="#fff"/>
<rect x="901.90" y="350.50" width="29" height="4.6" fill="#fff"/>
<rect x="933.30" y="350.40" width="13.6" height="4.7" fill="#fff" stroke="#36363f" stroke-width="0.8"/>
<rect x="948.90" y="350.40" width="12.3" height="4.7" fill="#fff" stroke="#36363f" stroke-width="0.8"/>
<rect x="948.90" y="350.40" width="2.4" height="4.7" fill="#b4b2c4"/>
<line x1="936.60" y1="350.40" x2="936.60" y2="355.10" stroke="#36363f" stroke-width="0.8"/>
<line x1="940.40" y1="350.40" x2="940.40" y2="355.10" stroke="#36363f" stroke-width="0.8"/>
<line x1="944.30" y1="350.40" x2="944.30" y2="355.10" stroke="#36363f" stroke-width="0.8"/>
<line x1="951.30" y1="350.40" x2="951.30" y2="355.10" stroke="#36363f" stroke-width="0.8"/>
<line x1="955.30" y1="350.40" x2="955.30" y2="355.10" stroke="#36363f" stroke-width="0.8"/>
<line x1="959.00" y1="350.40" x2="959.00" y2="355.10" stroke="#36363f" stroke-width="0.8"/>
<circle cx="560.5" cy="224.4" r="45.3" fill="#58538a" stroke="#36363f" stroke-width="1.2"/>
<ellipse cx="560.5" cy="224.4" rx="12.1" ry="45.3" fill="none" stroke="#2b2842" stroke-width="1"/>
<ellipse cx="560.5" cy="224.4" rx="30.2" ry="45.3" fill="none" stroke="#2b2842" stroke-width="1"/>
<line x1="515.2" y1="223" x2="605.8" y2="223" stroke="#2b2842" stroke-width="1.1"/>
<polygon points="462.90,236.80 475.90,229.20 475.90,234.23 484.50,229.20 484.50,244.40 475.90,239.37 475.90,244.40" fill="#d5e2f5" stroke="#36363f" stroke-width="1.1" stroke-linejoin="miter"/>
<polygon points="381.40,307.00 394.40,299.40 394.40,304.43 403.00,299.40 403.00,314.60 394.40,309.57 394.40,314.60" fill="#d5e2f5" stroke="#36363f" stroke-width="1.1" stroke-linejoin="miter"/>
<polygon points="671.00,203.10 658.00,195.50 658.00,200.53 649.40,195.50 649.40,210.70 658.00,205.67 658.00,210.70" fill="#d5e2f5" stroke="#36363f" stroke-width="1.1"/>
<polygon points="671.00,240.10 658.00,232.50 658.00,237.53 649.40,232.50 649.40,247.70 658.00,242.67 658.00,247.70" fill="#d5e2f5" stroke="#36363f" stroke-width="1.1"/>
<polygon points="550.10,167.60 542.50,154.60 547.53,154.60 542.50,146.00 557.70,146.00 552.67,154.60 557.70,154.60" fill="#d5e2f5" stroke="#36363f" stroke-width="1.1"/>
<polygon points="538.00,272.80 530.40,285.80 535.43,285.80 530.40,294.40 545.60,294.40 540.57,285.80 545.60,285.80" fill="#d5e2f5" stroke="#36363f" stroke-width="1.1"/>
<polygon points="586.90,272.80 579.30,285.80 584.33,285.80 579.30,294.40 594.50,294.40 589.47,285.80 594.50,285.80" fill="#d5e2f5" stroke="#36363f" stroke-width="1.1"/>
<g transform="translate(510.50,30.60) scale(1) translate(-510.5,-30.6)">
<path d="M510.4,91.7 H610.8 L624.8,107.2 Q625.8,108.6 625.3,110.6 Q624.7,112.4 622.8,112.4 H498.6 Q496.7,112.4 496.1,110.6 Q495.6,108.6 496.6,107.2 Z" fill="#fff" stroke="#36363f" stroke-width="1.25" vector-effect="non-scaling-stroke"/>
<rect x="510.5" y="30.6" width="100.3" height="61.1" rx="0" fill="#fff" stroke="#36363f" stroke-width="1.25" vector-effect="non-scaling-stroke"/>
<rect x="513.6" y="36" width="94.3" height="50.2" fill="#d6e4f8" stroke="#36363f" stroke-width="1.25" vector-effect="non-scaling-stroke"/>
<rect x="556.3" y="32.4" width="9.2" height="2.3" rx="1.1" fill="#fff" stroke="#36363f" stroke-width="1" vector-effect="non-scaling-stroke"/>
<path d="M513.4,94.7 H607.6 L615.8,102.9 H505.2 Z" fill="none" stroke="#5c5c63" stroke-width="1.06" vector-effect="non-scaling-stroke"/>
<line x1="496.4" y1="107.7" x2="624.9" y2="107.7" stroke="#5c5c63" stroke-width="1.06" vector-effect="non-scaling-stroke"/>
<path d="M543,107.7 L550.4,102.9 M571.5,102.9 L578.8,107.7" fill="none" stroke="#36363f" stroke-width="1.25" vector-effect="non-scaling-stroke"/>
<rect x="504.4" y="108.3" width="19.4" height="2.3" fill="#c8c8cc" stroke="#55555c" stroke-width="0.8" vector-effect="non-scaling-stroke"/>
<line x1="507.63" y1="108.3" x2="507.63" y2="110.6" stroke="#55555c" stroke-width="0.7" vector-effect="non-scaling-stroke"/>
<line x1="510.86" y1="108.3" x2="510.86" y2="110.6" stroke="#55555c" stroke-width="0.7" vector-effect="non-scaling-stroke"/>
<line x1="514.09" y1="108.3" x2="514.09" y2="110.6" stroke="#55555c" stroke-width="0.7" vector-effect="non-scaling-stroke"/>
<line x1="517.32" y1="108.3" x2="517.32" y2="110.6" stroke="#55555c" stroke-width="0.7" vector-effect="non-scaling-stroke"/>
<line x1="520.55" y1="108.3" x2="520.55" y2="110.6" stroke="#55555c" stroke-width="0.7" vector-effect="non-scaling-stroke"/>
<rect x="598.2" y="108.3" width="19.4" height="2.3" fill="#c8c8cc" stroke="#55555c" stroke-width="0.8" vector-effect="non-scaling-stroke"/>
<line x1="601.43" y1="108.3" x2="601.43" y2="110.6" stroke="#55555c" stroke-width="0.7" vector-effect="non-scaling-stroke"/>
<line x1="604.66" y1="108.3" x2="604.66" y2="110.6" stroke="#55555c" stroke-width="0.7" vector-effect="non-scaling-stroke"/>
<line x1="607.89" y1="108.3" x2="607.89" y2="110.6" stroke="#55555c" stroke-width="0.7" vector-effect="non-scaling-stroke"/>
<line x1="611.12" y1="108.3" x2="611.12" y2="110.6" stroke="#55555c" stroke-width="0.7" vector-effect="non-scaling-stroke"/>
<line x1="614.35" y1="108.3" x2="614.35" y2="110.6" stroke="#55555c" stroke-width="0.7" vector-effect="non-scaling-stroke"/>
</g>
<path d="M560.5,110 V179" stroke="#3e3e46" stroke-width="1.1" stroke-dasharray="5 5" fill="none"/>
<g transform="translate(429.30,339.30) scale(0.607) translate(-510.5,-30.6)">
<path d="M510.4,91.7 H610.8 L624.8,107.2 Q625.8,108.6 625.3,110.6 Q624.7,112.4 622.8,112.4 H498.6 Q496.7,112.4 496.1,110.6 Q495.6,108.6 496.6,107.2 Z" fill="#fff" stroke="#36363f" stroke-width="1.0" vector-effect="non-scaling-stroke"/>
<rect x="510.5" y="30.6" width="100.3" height="61.1" rx="1.5" fill="#fff" stroke="#55555c" stroke-width="1.0" vector-effect="non-scaling-stroke"/>
<rect x="513.6" y="36" width="94.3" height="50.2" fill="#d6e4f8" stroke="#36363f" stroke-width="1.0" vector-effect="non-scaling-stroke"/>
<rect x="555.5" y="31.8" width="10.8" height="4.2" fill="#36363f"/>
<path d="M513.4,94.7 H607.6 L615.8,102.9 H505.2 Z" fill="none" stroke="#5c5c63" stroke-width="0.85" vector-effect="non-scaling-stroke"/>
<line x1="496.4" y1="107.7" x2="624.9" y2="107.7" stroke="#5c5c63" stroke-width="0.85" vector-effect="non-scaling-stroke"/>
<path d="M543,107.7 L550.4,102.9 M571.5,102.9 L578.8,107.7" fill="none" stroke="#36363f" stroke-width="1.0" vector-effect="non-scaling-stroke"/>
<rect x="504.4" y="108.3" width="19.4" height="2.3" fill="#c8c8cc" stroke="#55555c" stroke-width="0.8" vector-effect="non-scaling-stroke"/>
<line x1="507.63" y1="108.3" x2="507.63" y2="110.6" stroke="#55555c" stroke-width="0.7" vector-effect="non-scaling-stroke"/>
<line x1="510.86" y1="108.3" x2="510.86" y2="110.6" stroke="#55555c" stroke-width="0.7" vector-effect="non-scaling-stroke"/>
<line x1="514.09" y1="108.3" x2="514.09" y2="110.6" stroke="#55555c" stroke-width="0.7" vector-effect="non-scaling-stroke"/>
<line x1="517.32" y1="108.3" x2="517.32" y2="110.6" stroke="#55555c" stroke-width="0.7" vector-effect="non-scaling-stroke"/>
<line x1="520.55" y1="108.3" x2="520.55" y2="110.6" stroke="#55555c" stroke-width="0.7" vector-effect="non-scaling-stroke"/>
<rect x="598.2" y="108.3" width="19.4" height="2.3" fill="#c8c8cc" stroke="#55555c" stroke-width="0.8" vector-effect="non-scaling-stroke"/>
<line x1="601.43" y1="108.3" x2="601.43" y2="110.6" stroke="#55555c" stroke-width="0.7" vector-effect="non-scaling-stroke"/>
<line x1="604.66" y1="108.3" x2="604.66" y2="110.6" stroke="#55555c" stroke-width="0.7" vector-effect="non-scaling-stroke"/>
<line x1="607.89" y1="108.3" x2="607.89" y2="110.6" stroke="#55555c" stroke-width="0.7" vector-effect="non-scaling-stroke"/>
<line x1="611.12" y1="108.3" x2="611.12" y2="110.6" stroke="#55555c" stroke-width="0.7" vector-effect="non-scaling-stroke"/>
<line x1="614.35" y1="108.3" x2="614.35" y2="110.6" stroke="#55555c" stroke-width="0.7" vector-effect="non-scaling-stroke"/>
</g>
<g transform="translate(641.10,339.30) scale(0.607) translate(-510.5,-30.6)">
<path d="M510.4,91.7 H610.8 L624.8,107.2 Q625.8,108.6 625.3,110.6 Q624.7,112.4 622.8,112.4 H498.6 Q496.7,112.4 496.1,110.6 Q495.6,108.6 496.6,107.2 Z" fill="#fff" stroke="#36363f" stroke-width="1.0" vector-effect="non-scaling-stroke"/>
<rect x="510.5" y="30.6" width="100.3" height="61.1" rx="1.5" fill="#fff" stroke="#55555c" stroke-width="1.0" vector-effect="non-scaling-stroke"/>
<rect x="513.6" y="36" width="94.3" height="50.2" fill="#d6e4f8" stroke="#36363f" stroke-width="1.0" vector-effect="non-scaling-stroke"/>
<rect x="555.5" y="31.8" width="10.8" height="4.2" fill="#36363f"/>
<path d="M513.4,94.7 H607.6 L615.8,102.9 H505.2 Z" fill="none" stroke="#5c5c63" stroke-width="0.85" vector-effect="non-scaling-stroke"/>
<line x1="496.4" y1="107.7" x2="624.9" y2="107.7" stroke="#5c5c63" stroke-width="0.85" vector-effect="non-scaling-stroke"/>
<path d="M543,107.7 L550.4,102.9 M571.5,102.9 L578.8,107.7" fill="none" stroke="#36363f" stroke-width="1.0" vector-effect="non-scaling-stroke"/>
<rect x="504.4" y="108.3" width="19.4" height="2.3" fill="#c8c8cc" stroke="#55555c" stroke-width="0.8" vector-effect="non-scaling-stroke"/>
<line x1="507.63" y1="108.3" x2="507.63" y2="110.6" stroke="#55555c" stroke-width="0.7" vector-effect="non-scaling-stroke"/>
<line x1="510.86" y1="108.3" x2="510.86" y2="110.6" stroke="#55555c" stroke-width="0.7" vector-effect="non-scaling-stroke"/>
<line x1="514.09" y1="108.3" x2="514.09" y2="110.6" stroke="#55555c" stroke-width="0.7" vector-effect="non-scaling-stroke"/>
<line x1="517.32" y1="108.3" x2="517.32" y2="110.6" stroke="#55555c" stroke-width="0.7" vector-effect="non-scaling-stroke"/>
<line x1="520.55" y1="108.3" x2="520.55" y2="110.6" stroke="#55555c" stroke-width="0.7" vector-effect="non-scaling-stroke"/>
<rect x="598.2" y="108.3" width="19.4" height="2.3" fill="#c8c8cc" stroke="#55555c" stroke-width="0.8" vector-effect="non-scaling-stroke"/>
<line x1="601.43" y1="108.3" x2="601.43" y2="110.6" stroke="#55555c" stroke-width="0.7" vector-effect="non-scaling-stroke"/>
<line x1="604.66" y1="108.3" x2="604.66" y2="110.6" stroke="#55555c" stroke-width="0.7" vector-effect="non-scaling-stroke"/>
<line x1="607.89" y1="108.3" x2="607.89" y2="110.6" stroke="#55555c" stroke-width="0.7" vector-effect="non-scaling-stroke"/>
<line x1="611.12" y1="108.3" x2="611.12" y2="110.6" stroke="#55555c" stroke-width="0.7" vector-effect="non-scaling-stroke"/>
<line x1="614.35" y1="108.3" x2="614.35" y2="110.6" stroke="#55555c" stroke-width="0.7" vector-effect="non-scaling-stroke"/>
</g>
<path d="M396.40,178.90 H401.60 M404.20,178.90 H409.40 M402.90,172.40 V177.60 M402.90,180.20 V185.40" stroke="#77777c" stroke-width="1.4" fill="none"/>
<path d="M71.95,253.45 H76.95 M79.95,253.45 H84.95 M78.45,246.95 V251.95 M78.45,254.95 V259.95" stroke="#2a3042" stroke-width="1.1" fill="none"/>
<path d="M563.50,323.90 H568.70 M571.30,323.90 H576.50 M570.00,317.40 V322.60 M570.00,325.20 V330.40" stroke="#77777c" stroke-width="1.4" fill="none"/>
<circle cx="1054.2" cy="64.3" r="5.1" fill="none" stroke="#36363f" stroke-width="1.1"/>
<path fill-rule="evenodd" fill="#2e2f35" d="M100.3,413.1 H141.6 Q143.4,413.1 142.9,414.6 L133.6,426.1 A15.2,15.2 0 0 1 128.5,455.6 H87.1 Q85.3,455.6 85.8,454.1 L95.2,442.6 A15.2,15.2 0 0 1 100.3,413.1 Z M130.7,419.3 H100.3 A9,9 0 0 0 100.3,437.3 H128.5 A3.1,3.1 0 0 1 128.5,443.5 H103.4 L98.1,449.4 H128.5 A9,9 0 0 0 128.5,431.4 H100.3 A3.1,3.1 0 0 1 100.3,425.2 H125.4 Z"/>
<text style="will-change:transform" transform="translate(153.63,445.7) scale(0.728,1)" font-family="Liberation Sans, sans-serif" font-size="32.0" fill="#2f3036" stroke="#2f3036" stroke-width="0.3">S</text>
<text style="will-change:transform" transform="translate(170.47,445.7) scale(0.815,1)" font-family="Liberation Sans, sans-serif" font-size="32.0" fill="#2f3036" stroke="#2f3036" stroke-width="0.3">C</text>
<text style="will-change:transform" transform="translate(191.84,445.7) scale(0.867,1)" font-family="Liberation Sans, sans-serif" font-size="32.0" fill="#2f3036" stroke="#2f3036" stroke-width="0.3">A</text>
<text style="will-change:transform" transform="translate(212.69,445.7) scale(0.843,1)" font-family="Liberation Sans, sans-serif" font-size="32.0" fill="#2f3036" stroke="#2f3036" stroke-width="0.3">L</text>
<text style="will-change:transform" transform="translate(229.84,445.7) scale(0.867,1)" font-family="Liberation Sans, sans-serif" font-size="32.0" fill="#2f3036" stroke="#2f3036" stroke-width="0.3">A</text>
<text style="will-change:transform" transform="translate(250.52,445.7) scale(0.906,1)" font-family="Liberation Sans, sans-serif" font-size="32.0" fill="#2f3036" stroke="#2f3036" stroke-width="0.3">H</text>
<text style="will-change:transform" transform="translate(272.82,445.7) scale(0.915,1)" font-family="Liberation Sans, sans-serif" font-size="32.0" fill="#2f3036" stroke="#2f3036" stroke-width="0.3">O</text>
<text style="will-change:transform" transform="translate(296.80,445.7) scale(0.745,1)" font-family="Liberation Sans, sans-serif" font-size="32.0" fill="#2f3036" stroke="#2f3036" stroke-width="0.3">S</text>
<text style="will-change:transform" transform="translate(313.48,445.7) scale(0.883,1)" font-family="Liberation Sans, sans-serif" font-size="32.0" fill="#2f3036" stroke="#2f3036" stroke-width="0.3">T</text>
<text style="will-change:transform" transform="translate(331.17,445.7) scale(1.031,1)" font-family="Liberation Sans, sans-serif" font-size="32.0" fill="#2f3036" stroke="#2f3036" stroke-width="0.3">I</text>
<text style="will-change:transform" transform="translate(340.28,445.7) scale(0.962,1)" font-family="Liberation Sans, sans-serif" font-size="32.0" fill="#2f3036" stroke="#2f3036" stroke-width="0.3">N</text>
<text style="will-change:transform" transform="translate(363.84,445.7) scale(0.852,1)" font-family="Liberation Sans, sans-serif" font-size="32.0" fill="#2f3036" stroke="#2f3036" stroke-width="0.3">G</text>
</svg>
</body></html>
